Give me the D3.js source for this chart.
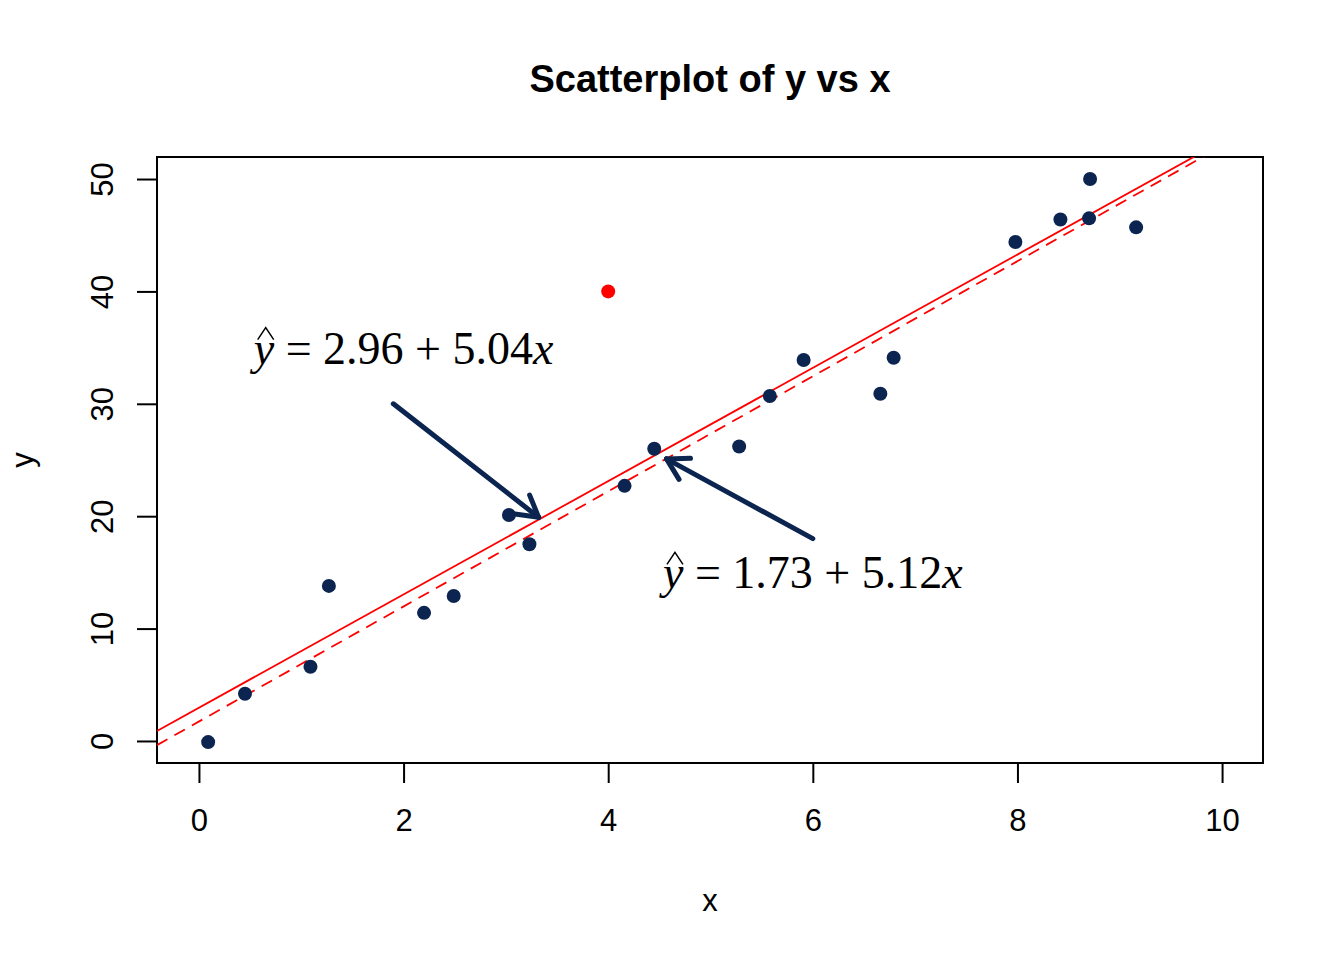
<!DOCTYPE html>
<html>
<head>
<meta charset="utf-8">
<script src="https://cdn.jsdelivr.net/npm/d3@7"></script>
<style>
  body { margin: 0; background: #fff; }
</style>
</head>
<body>
<svg id="chart" width="1344" height="960" font-family="'Liberation Sans', Arial, sans-serif"></svg>
<script>
// data
var xs = [0.09, 0.45, 1.09, 1.27, 2.20, 2.49, 3.03, 3.23, 4.16, 4.45, 5.28, 5.58, 5.91, 6.66, 6.79, 7.98, 8.42, 8.70, 8.71, 9.16];
var ys = [-0.1, 4.2, 6.6, 13.8, 11.4, 12.9, 20.1, 17.5, 22.7, 26.0, 26.2, 30.7, 33.9, 30.9, 34.1, 44.4, 46.4, 46.5, 50.0, 45.7];
var outlier = [4, 40];
var xTicks = [0, 2, 4, 6, 8, 10];
var yTicks = [0, 10, 20, 30, 40, 50];
var fitWith = [2.96, 5.04];    // intercept, slope (solid)
var fitWithout = [1.73, 5.12]; // dashed
var arrows = [
  { from: [1.9, 30], to: [3.32, 19.9] },
  { from: [6.0, 18], to: [4.57, 25.1] }
];
var labels = [
  { x: 2, y: 35, a: "2.96", b: "5.04" },
  { x: 6, y: 15, a: "1.73", b: "5.12" }
];

var navy = "#0b2450";
var box = { left: 157, right: 1263, top: 157, bottom: 763 };
var svg = d3.select("#chart");

var x = d3.scaleLinear().domain([-0.41, 10.40]).range([box.left, box.right]);
var y = d3.scaleLinear().domain([-1.96, 51.96]).range([box.bottom, box.top]);

svg.append("text").attr("x", 710).attr("y", 92).attr("text-anchor", "middle")
  .attr("font-size", 38).attr("font-weight", "bold").text("Scatterplot of y vs x");

// axes
var xAxis = svg.append("g").attr("transform", "translate(0," + box.bottom + ")")
  .call(d3.axisBottom(x).tickValues(xTicks).tickSize(20).tickPadding(26).tickSizeOuter(0));
var yAxis = svg.append("g").attr("transform", "translate(" + box.left + ",0)")
  .call(d3.axisLeft(y).tickValues(yTicks).tickSize(20).tickSizeOuter(0).tickFormat(d3.format("d")));
[xAxis, yAxis].forEach(function(g) {
  g.select(".domain").remove();
  g.selectAll(".tick line").attr("stroke", "#000").attr("stroke-width", 2);
  g.selectAll("text").attr("font-size", 31).attr("fill", "#000")
    .attr("font-family", "'Liberation Sans', Arial, sans-serif");
});
yAxis.selectAll(".tick text")
  .attr("x", 0).attr("dy", null).attr("text-anchor", "middle")
  .attr("transform", "translate(-44,0) rotate(-90)");

svg.append("rect").attr("x", box.left).attr("y", box.top)
  .attr("width", box.right - box.left).attr("height", box.bottom - box.top)
  .attr("fill", "none").attr("stroke", "#000").attr("stroke-width", 2);

svg.append("text").attr("x", 710).attr("y", 911).attr("text-anchor", "middle").attr("font-size", 31).text("x");
svg.append("text").attr("transform", "translate(33,460) rotate(-90)").attr("text-anchor", "middle")
  .attr("font-size", 31).text("y");

// clip region for lines
svg.append("clipPath").attr("id", "clip").append("rect")
  .attr("x", box.left).attr("y", box.top).attr("width", box.right - box.left).attr("height", box.bottom - box.top);
var plot = svg.append("g").attr("clip-path", "url(#clip)");

function addFit(coef, dash) {
  var d = x.domain();
  plot.append("line")
    .attr("x1", x(d[0])).attr("y1", y(coef[0] + coef[1] * d[0]))
    .attr("x2", x(d[1])).attr("y2", y(coef[0] + coef[1] * d[1]))
    .attr("stroke", "#ff0000").attr("stroke-width", 1.8)
    .attr("stroke-dasharray", dash ? "12,8" : null);
}
addFit(fitWith, false);
addFit(fitWithout, true);

plot.selectAll("circle.pt").data(d3.zip(xs, ys)).join("circle").attr("class", "pt")
  .attr("cx", function(d) { return x(d[0]); }).attr("cy", function(d) { return y(d[1]); })
  .attr("r", 7).attr("fill", navy);
plot.append("circle").attr("cx", x(outlier[0])).attr("cy", y(outlier[1])).attr("r", 7).attr("fill", "#ff0000");

// arrows with open heads
arrows.forEach(function(a) {
  var x1 = x(a.from[0]), y1 = y(a.from[1]), x2 = x(a.to[0]), y2 = y(a.to[1]);
  var ang = Math.atan2(y2 - y1, x2 - x1), len = 24, spread = Math.PI / 6;
  var g = svg.append("g").attr("stroke", navy).attr("stroke-width", 5)
    .attr("stroke-linecap", "round").attr("fill", "none");
  g.append("line").attr("x1", x1).attr("y1", y1).attr("x2", x2).attr("y2", y2);
  [-spread, spread].forEach(function(s) {
    g.append("line").attr("x1", x2).attr("y1", y2)
      .attr("x2", x2 - len * Math.cos(ang + s)).attr("y2", y2 - len * Math.sin(ang + s));
  });
});

// equation labels
labels.forEach(function(l) {
  var t = svg.append("text").attr("x", x(l.x)).attr("y", y(l.y) + 16)
    .attr("text-anchor", "middle").attr("font-size", 46)
    .attr("font-family", "'Liberation Serif', 'Times New Roman', serif");
  t.append("tspan").attr("font-style", "italic").text("y");
  t.append("tspan").text(" = " + l.a + " + " + l.b);
  t.append("tspan").attr("font-style", "italic").text("x");
  // hat over y
  var bb = t.node().getBBox();
  var hx = bb.x + 16, hy = y(l.y) - 8;
  svg.append("path").attr("d", "M" + (hx - 8) + "," + hy + " L" + hx + "," + (hy - 12) + " L" + (hx + 8) + "," + hy)
    .attr("fill", "none").attr("stroke", "#000").attr("stroke-width", 1.5);
});
</script>
</body>
</html>
